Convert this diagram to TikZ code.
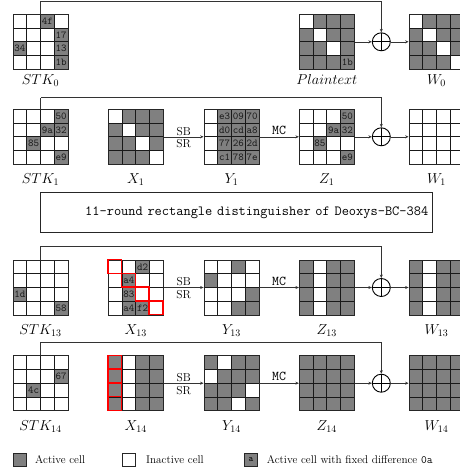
\documentclass[tikz,border=0pt]{standalone}
\usetikzlibrary{arrows.meta,calc}
\colorlet{actc}{black!50}
\tikzset{
  gridbox/.style={draw=black!85, line width=0.8pt, minimum size=55pt, inner sep=0pt},
  gridline/.style={black!90, line width=0.7pt},
  celltext/.style={inner sep=0pt, font=\fontsize{10.5}{11}\selectfont\ttfamily, text=black!90},
  redcell/.style={draw=red, line width=1.4pt},
  conn/.style={draw=black!80, line width=0.6pt, -{Stealth[length=3.5pt,width=3pt]}},
  feed/.style={draw=black!80, line width=0.6pt},
  oplus/.style={circle, draw=black, line width=0.9pt, minimum size=18pt, inner sep=0pt,
    path picture={\draw[line width=0.8pt] (path picture bounding box.north) -- (path picture bounding box.south)
      (path picture bounding box.west) -- (path picture bounding box.east);}},
  lbl/.style={anchor=base, inner sep=0pt, font=\fontsize{14.4}{16}\selectfont},
  oplbl/.style={inner sep=0pt, font=\fontsize{11.5}{12}\selectfont},
  mclbl/.style={inner sep=0pt, font=\fontsize{13.5}{15}\selectfont\ttfamily},
  legsq/.style={draw=black!85, line width=0.6pt, minimum size=13pt, inner sep=0pt},
  legtxt/.style={anchor=west, inner sep=0pt, font=\fontsize{11.2}{12}\selectfont}
}
\newcommand{\mkgrid}[5]{%
  \fill[#4] ({#2-27.5},{#3-27.5}) rectangle ++(55,55);
  \foreach \rr/\cc/\ff/\tx in {#5} {
    \fill[\ff] ({#2-27.5+\cc*13.75},{#3-27.5+\rr*13.75}) rectangle ++(13.75,13.75);
    \node[celltext] at ({#2-27.5+(\cc+0.5)*13.75},{#3-27.5+(\rr+0.5)*13.75}) {\tx};
  }
  \foreach \ii in {1,2,3} {
    \draw[gridline] ({#2-27.5+\ii*13.75},{#3-27.5}) -- ++(0,55);
    \draw[gridline] ({#2-27.5},{#3-27.5+\ii*13.75}) -- ++(55,0);
  }
  \node[gridbox] (#1) at (#2,#3) {};
}
\newcommand{\redat}[3]{% gridname row col
  \draw[redcell] ($(#1.north west)+({#3*13.75},{#2*13.75})$) rectangle ++(13.75,13.75);
}
\begin{document}
\begin{tikzpicture}[x=1pt,y=-1pt]
\useasboundingbox (0,0) rectangle (459,471);

% ---------- row 0 ----------
\mkgrid{stk0}{40.5}{41.8}{white}{0/2/actc/4f,1/3/actc/17,2/0/actc/34,2/3/actc/13,3/3/actc/1b}
\mkgrid{plain}{326.8}{41.8}{actc}{0/0/white/,1/1/white/,2/2/white/,3/3/actc/1b}
\mkgrid{w0}{436.5}{41.8}{actc}{0/0/white/,1/1/white/,2/2/white/,3/3/white/}
\node[oplus] (o0) at (381.3,41.8) {};
\node[lbl] (lstk0) at (40.5,84.5) {$STK_0$};
\node[lbl] (lplain) at (326.8,84.5) {$Plaintext$};
\node[lbl] (lw0) at (436.5,84.5) {$W_0$};
\coordinate (t0) at (40.5,1);
\draw[feed] (stk0.north) -- (t0);
\draw[conn] (t0) -| (o0.north);
\draw[conn] (plain) -- (o0);
\draw[conn] (o0) -- (w0);

% ---------- row 1 ----------
\mkgrid{stk1}{40.5}{136.8}{white}{0/3/actc/50,1/2/actc/9a,1/3/actc/32,2/1/actc/85,3/3/actc/e9}
\mkgrid{x1}{135.8}{136.8}{actc}{0/0/white/,1/1/white/,2/2/white/,3/3/white/}
\mkgrid{y1}{231.5}{136.8}{actc}{0/0/white/,1/0/white/,2/0/white/,3/0/white/,0/1/actc/e3,0/2/actc/09,0/3/actc/70,1/1/actc/d0,1/2/actc/cd,1/3/actc/a8,2/1/actc/77,2/2/actc/26,2/3/actc/2d,3/1/actc/c1,3/2/actc/78,3/3/actc/7e}
\mkgrid{z1}{326.8}{136.8}{white}{0/3/actc/50,1/2/actc/9a,1/3/actc/32,2/1/actc/85,3/3/actc/e9}
\mkgrid{w1}{436.5}{136.8}{white}{0/0/white/}
\node[oplus] (o1) at (381.3,136.8) {};
\node[lbl] (lstk1) at (40.5,183.3) {$STK_1$};
\node[lbl] (lx1) at (135.8,183.3) {$X_1$};
\node[lbl] (ly1) at (231.5,183.3) {$Y_1$};
\node[lbl] (lz1) at (326.8,183.3) {$Z_1$};
\node[lbl] (lw1) at (436.5,183.3) {$W_1$};
\coordinate (t1) at (40.5,97.7);
\draw[feed] (stk1.north) -- (t1);
\draw[conn] (t1) -| (o1.north);
\draw[conn] (x1) -- node[oplbl, above=1pt] (sb1) {SB} node[oplbl, below=2.5pt] (sr1) {SR} (y1);
\draw[conn] (y1) -- node[mclbl, above=2pt] (mc1) {MC} (z1);
\draw[conn] (z1) -- (o1);
\draw[conn] (o1) -- (w1);

% ---------- middle box ----------
\node[draw=black!85, line width=0.6pt, minimum height=40pt, text width=383.9pt, align=right,
  inner xsep=4.4pt, font=\fontsize{14}{16}\selectfont\ttfamily] (dbox) at (236.35,212.7)
  {11-round rectangle distinguisher of Deoxys-BC-384};

% ---------- row 13 ----------
\mkgrid{stk13}{40.5}{287.5}{white}{2/0/actc/1d,3/3/actc/58}
\mkgrid{x13}{135.8}{287.5}{white}{0/2/actc/d2,1/1/actc/a4,2/1/actc/83,3/1/actc/a4,3/2/actc/f2}
\redat{x13}{0}{0}
\redat{x13}{1}{1}
\redat{x13}{2}{2}
\redat{x13}{3}{3}
\mkgrid{y13}{231.5}{287.5}{white}{0/2/actc/,1/0/actc/,2/3/actc/,3/2/actc/,3/3/actc/}
\mkgrid{z13}{326.8}{287.5}{actc}{0/1/white/,1/1/white/,2/1/white/,3/1/white/}
\mkgrid{w13}{436.5}{287.5}{actc}{0/1/white/,1/1/white/,2/1/white/,3/1/white/}
\node[oplus] (o13) at (381.3,287.5) {};
\node[lbl] (lstk13) at (40.5,334) {$STK_{13}$};
\node[lbl] (lx13) at (135.8,334) {$X_{13}$};
\node[lbl] (ly13) at (231.5,334) {$Y_{13}$};
\node[lbl] (lz13) at (326.8,334) {$Z_{13}$};
\node[lbl] (lw13) at (436.5,334) {$W_{13}$};
\coordinate (t13) at (40.5,246);
\draw[feed] (stk13.north) -- (t13);
\draw[conn] (t13) -| (o13.north);
\draw[conn] (x13) -- node[oplbl, above=1pt] (sb13) {SB} node[oplbl, below=2.5pt] (sr13) {SR} (y13);
\draw[conn] (y13) -- node[mclbl, above=2pt] (mc13) {MC} (z13);
\draw[conn] (z13) -- (o13);
\draw[conn] (o13) -- (w13);

% ---------- row 14 ----------
\mkgrid{stk14}{40.5}{383.2}{white}{1/3/actc/67,2/1/actc/4c}
\mkgrid{x14}{135.8}{383.2}{actc}{0/1/white/,1/1/white/,2/1/white/,3/1/white/}
\redat{x14}{0}{0}
\redat{x14}{1}{0}
\redat{x14}{2}{0}
\redat{x14}{3}{0}
\mkgrid{y14}{231.5}{383.2}{actc}{0/1/white/,1/0/white/,2/3/white/,3/2/white/}
\mkgrid{z14}{326.8}{383.2}{actc}{0/0/actc/}
\mkgrid{w14}{436.5}{383.2}{actc}{0/0/actc/}
\node[oplus] (o14) at (381.3,383.2) {};
\node[lbl] (lstk14) at (40.5,430) {$STK_{14}$};
\node[lbl] (lx14) at (135.8,430) {$X_{14}$};
\node[lbl] (ly14) at (231.5,430) {$Y_{14}$};
\node[lbl] (lz14) at (326.8,430) {$Z_{14}$};
\node[lbl] (lw14) at (436.5,430) {$W_{14}$};
\coordinate (t14) at (40.5,342.3);
\draw[feed] (stk14.north) -- (t14);
\draw[conn] (t14) -| (o14.north);
\draw[conn] (x14) -- node[oplbl, above=1pt] (sb14) {SB} node[oplbl, below=2.5pt] (sr14) {SR} (y14);
\draw[conn] (y14) -- node[mclbl, above=2pt] (mc14) {MC} (z14);
\draw[conn] (z14) -- (o14);
\draw[conn] (o14) -- (w14);

% ---------- legend ----------
\node[legsq, fill=actc] (lg1) at (19.4,459.5) {};
\node[legtxt] (lt1) at (35,459.5) {Active cell};
\node[legsq, fill=white] (lg2) at (128.8,459.5) {};
\node[legtxt] (lt2) at (146,459.5) {Inactive cell};
\node[legsq, fill=actc, font=\fontsize{9}{9}\selectfont\ttfamily] (lg3) at (251,459.5) {a};
\node[legtxt] (lt3) at (266.7,459.5) {Active cell with fixed difference \texttt{0a}};
\end{tikzpicture}
\end{document}
